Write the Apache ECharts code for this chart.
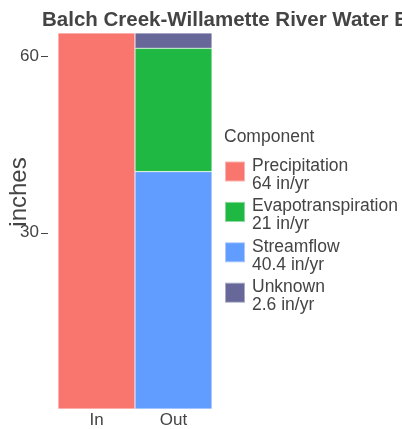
<!DOCTYPE html>
<html>
<head>
<meta charset="utf-8">
<script src="https://cdn.jsdelivr.net/npm/echarts@6/dist/echarts.min.js"></script>
<style>html,body{margin:0;padding:0;background:#fff;}#c{width:402px;height:429px;}</style>
</head>
<body>
<div id="c"></div>
<script>
const categories = ['In', 'Out'];
const componentNames = ['Precipitation', 'Evapotranspiration', 'Streamflow', 'Unknown'];
const componentTotals = ['64 in/yr', '21 in/yr', '40.4 in/yr', '2.6 in/yr'];
const precipitation = [64, null];
const evapotranspiration = [null, 21];
const streamflow = [null, 40.4];
const unknown = [null, 2.6];
const yTicks = [30, 60];

const colors = {
  Precipitation: '#F8766D',
  Evapotranspiration: '#1FB843',
  Streamflow: '#619CFF',
  Unknown: '#67679A'
};
const font = "'Liberation Sans', Arial, Helvetica, sans-serif";
const txt = '#444';

const chart = echarts.init(document.getElementById('c'), null, {renderer: 'canvas'});

function bar(name, data) {
  return {
    name: name, type: 'bar', stack: 'total', data: data,
    barWidth: '100%', barCategoryGap: 0,
    itemStyle: {color: colors[name], borderColor: 'rgba(255,255,255,0.45)', borderWidth: 0.6},
    emphasis: {disabled: true}
  };
}

chart.setOption({
  animation: false,
  textStyle: {fontFamily: font},
  title: {
    text: 'Balch Creek-Willamette River Water Budget',
    left: 37, top: 5,
    textStyle: {fontSize: 20.5, fontWeight: 'bold', color: txt, fontFamily: font}
  },
  grid: {left: 58, right: 190, top: 33, bottom: 19, containLabel: false},
  xAxis: {
    type: 'category', data: categories,
    axisLine: {show: false}, axisTick: {show: false},
    axisLabel: {fontSize: 17, color: txt, margin: 3, fontFamily: font}
  },
  yAxis: {
    type: 'value', min: 0, max: 64,
    offset: 10,
    splitLine: {show: false},
    axisLine: {show: false},
    axisTick: {show: true, length: 7, lineStyle: {color: txt, width: 1}, customValues: yTicks},
    axisLabel: {fontSize: 17, color: txt, margin: 9, fontFamily: font, customValues: yTicks}
  },
  legend: {
    orient: 'vertical', left: 224, top: 157, padding: 0,
    data: componentNames,
    icon: 'rect', itemWidth: 20, itemHeight: 20, itemGap: 4.4,
    selectedMode: false,
    formatter: function (n) { return '{t|' + n + '}\n{v|' + componentTotals[componentNames.indexOf(n)] + '}'; },
    textStyle: {
      fontSize: 17.5, color: txt, fontFamily: font, padding: [0, 0, 0, 2],
      rich: {
        t: {fontSize: 17.5, lineHeight: 25, color: txt, fontFamily: font},
        v: {fontSize: 17.5, lineHeight: 11, color: txt, fontFamily: font}
      }
    }
  },
  graphic: [
    {type: 'text', left: 224, top: 128, style: {text: 'Component', fontSize: 17.5, fill: txt, fontFamily: font}},
    {type: 'text', x: 19, y: 192, rotation: Math.PI / 2,
     style: {text: 'inches', fontSize: 24, fill: txt, fontFamily: font, align: 'center', verticalAlign: 'middle'}}
  ],
  series: [
    bar('Precipitation', precipitation),
    bar('Streamflow', streamflow),
    bar('Evapotranspiration', evapotranspiration),
    bar('Unknown', unknown)
  ]
});
</script>
</body>
</html>
